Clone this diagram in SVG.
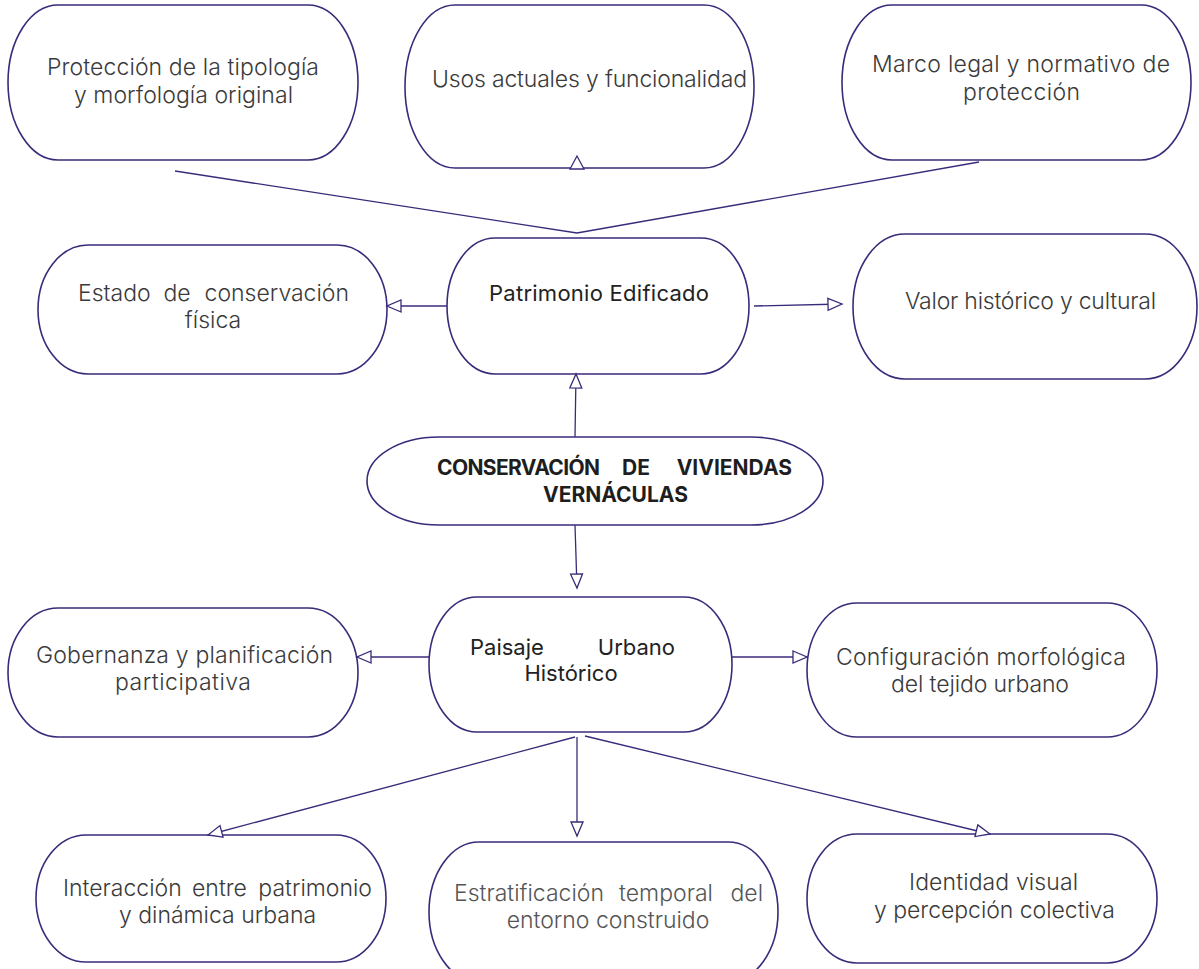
<svg xmlns="http://www.w3.org/2000/svg" width="1199" height="969" viewBox="0 0 1199 969">
  <defs>
    <marker id="arr" markerUnits="userSpaceOnUse" markerWidth="18" markerHeight="16" refX="15" refY="7" orient="auto">
      <path d="M1,1 L15,7 L1,13 Z" fill="#ffffff" stroke="#3b2a7a" stroke-width="1.3"/>
    </marker>
    <style>
      .node { fill: #ffffff; stroke: #3b2a7a; stroke-width: 1.6; }
      .t { font-family: Inter, "Noto Sans", "Liberation Sans", sans-serif; font-size: 23px; font-weight: 300; fill: #3a3a3a; }
      .tl { fill: #555555; }
      .tm { font-family: Inter, "Noto Sans", "Liberation Sans", sans-serif; font-size: 22px; font-weight: 400; fill: #222222; }
      .tb { font-family: Inter, "Noto Sans", "Liberation Sans", sans-serif; font-size: 21px; font-weight: 700; fill: #1e1e1e; }
      .c { fill: none; stroke: #3b2a7a; stroke-width: 1.3; }
      .ca { fill: none; stroke: #3b2a7a; stroke-width: 1.3; marker-end: url(#arr); }
    </style>
  </defs>
  <rect width="1199" height="969" fill="#ffffff"/>

  <g id="n-proteccion">
    <rect class="node" x="8" y="5" width="350" height="155" rx="50" ry="77.5"/>
    <text class="t" text-anchor="middle"><tspan x="183" y="75" textLength="272">Protección de la tipología</tspan><tspan x="183.5" y="103" textLength="219">y morfología original</tspan></text>
  </g>

  <g id="n-usos">
    <rect class="node" x="405" y="5" width="349" height="163" rx="50" ry="81.5"/>
    <text class="t" text-anchor="middle" x="589.5" y="87" textLength="315">Usos actuales y funcionalidad</text>
  </g>

  <g id="n-marco">
    <rect class="node" x="842" y="5" width="349" height="155" rx="50" ry="77.5"/>
    <text class="t" text-anchor="middle"><tspan x="1021" y="72" textLength="298">Marco legal y normativo de</tspan><tspan x="1021.5" y="100" textLength="117">protección</tspan></text>
  </g>

  <g id="n-estado">
    <rect class="node" x="38" y="245" width="349" height="129" rx="50" ry="64.5"/>
    <text class="t"><tspan x="78" y="301">Estado</tspan><tspan x="177" y="301" text-anchor="middle">de</tspan><tspan x="349" y="301" text-anchor="end">conservación</tspan><tspan x="213" y="328" text-anchor="middle">física</tspan></text>
  </g>

  <g id="n-patrimonio">
    <rect class="node" x="447" y="238" width="302" height="136" rx="48" ry="68"/>
    <text class="tm" text-anchor="middle" x="599" y="301" textLength="220">Patrimonio Edificado</text>
  </g>

  <g id="n-valor">
    <rect class="node" x="853" y="234" width="344" height="145" rx="52" ry="72.5"/>
    <text class="t" text-anchor="middle" x="1030.5" y="309" textLength="251">Valor histórico y cultural</text>
  </g>

  <g id="n-conservacion">
    <rect class="node" x="367" y="437" width="456" height="88" rx="72" ry="44"/>
    <text class="tb"><tspan x="437" y="475" textLength="163">CONSERVACIÓN</tspan><tspan x="636" y="475" text-anchor="middle">DE</tspan><tspan x="792" y="475" text-anchor="end">VIVIENDAS</tspan><tspan x="615.5" y="502" text-anchor="middle">VERNÁCULAS</tspan></text>
  </g>

  <g id="n-paisaje">
    <rect class="node" x="429" y="597" width="303" height="135" rx="48" ry="67.5"/>
    <text class="tm"><tspan x="470" y="655">Paisaje</tspan><tspan x="675" y="655" text-anchor="end">Urbano</tspan><tspan x="571" y="681" text-anchor="middle">Histórico</tspan></text>
  </g>

  <g id="n-gobernanza">
    <rect class="node" x="8" y="608" width="350" height="129" rx="50" ry="64.5"/>
    <text class="t" text-anchor="middle"><tspan x="184.5" y="663" textLength="297">Gobernanza y planificación</tspan><tspan x="183" y="690" textLength="136">participativa</tspan></text>
  </g>

  <g id="n-configuracion">
    <rect class="node" x="807" y="603" width="350" height="134" rx="50" ry="67"/>
    <text class="t" text-anchor="middle"><tspan x="981" y="665" textLength="290">Configuración morfológica</tspan><tspan x="980" y="692" textLength="178">del tejido urbano</tspan></text>
  </g>

  <g id="n-interaccion">
    <rect class="node" x="36" y="835" width="350" height="127" rx="50" ry="63.5"/>
    <text class="t"><tspan x="63" y="896">Interacción</tspan><tspan x="219.5" y="896" text-anchor="middle">entre</tspan><tspan x="372" y="896" text-anchor="end">patrimonio</tspan><tspan x="217.5" y="923" text-anchor="middle">y dinámica urbana</tspan></text>
  </g>

  <g id="n-estratificacion">
    <rect class="node" x="429" y="842" width="349" height="140" rx="50" ry="70"/>
    <text class="t tl"><tspan x="454" y="901">Estratificación</tspan><tspan x="666" y="901" text-anchor="middle">temporal</tspan><tspan x="763" y="901" text-anchor="end">del</tspan><tspan x="608" y="928" text-anchor="middle">entorno construido</tspan></text>
  </g>

  <g id="n-identidad">
    <rect class="node" x="807" y="834" width="350" height="129" rx="50" ry="64.5"/>
    <text class="t" text-anchor="middle"><tspan x="993.5" y="890" textLength="169">Identidad visual</tspan><tspan x="994.5" y="918" textLength="241">y percepción colectiva</tspan></text>
  </g>

  <g id="connectors">
    <line class="c" x1="175" y1="171" x2="577" y2="233"/>
    <line class="c" x1="979" y1="162" x2="577" y2="233"/>
    <polygon points="577,156 570,169 584,169" fill="#ffffff" stroke="#3b2a7a" stroke-width="1.3"/>
    <line class="ca" x1="447" y1="306" x2="387" y2="306"/>
    <line class="ca" x1="754" y1="306" x2="842" y2="304"/>
    <line class="ca" x1="575" y1="437" x2="576" y2="374"/>
    <line class="ca" x1="575" y1="525" x2="577" y2="588"/>
    <line class="ca" x1="429" y1="657" x2="357" y2="657"/>
    <line class="ca" x1="732" y1="657" x2="807" y2="657"/>
    <line class="ca" x1="575" y1="737" x2="208" y2="835"/>
    <line class="ca" x1="577" y1="737" x2="577" y2="836"/>
    <line class="ca" x1="585" y1="736" x2="990" y2="834"/>
  </g>
</svg>
